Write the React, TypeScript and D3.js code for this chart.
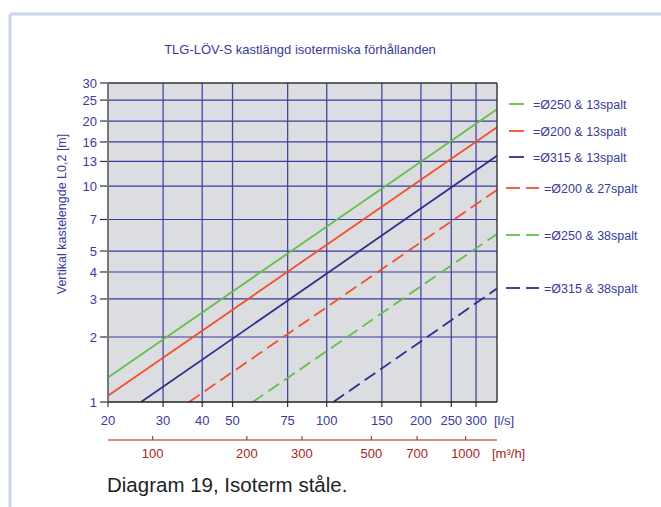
import React from "react";
import * as d3 from "d3";

// Air flow axis ticks [l/s] and the secondary [m³/h] scale
const flowTicks = [20, 30, 40, 50, 75, 100, 150, 200, 250, 300];
const flowM3hTicks = [100, 200, 300, 500, 700, 1000];
// Throw length ticks [m]
const throwTicks = [1, 2, 3, 4, 5, 7, 10, 13, 16, 20, 25, 30];

// Series: each line runs between two read points (flow l/s, throw m)
const seriesNames = [
  "=Ø250 & 13spalt",
  "=Ø200 & 13spalt",
  "=Ø315 & 13spalt",
  "=Ø200 & 27spalt",
  "=Ø250 & 38spalt",
  "=Ø315 & 38spalt",
];
const startFlow = [20, 20, 25.5, 36.3, 58, 105];
const startThrow = [1.3, 1.07, 1, 1, 1, 1];
const endFlow = [350, 350, 350, 350, 350, 350];
const endThrow = [22.7, 18.7, 13.8, 9.6, 6.0, 3.35];
const seriesColors = ["#62c04a", "#f2502c", "#2e2e8e", "#f2502c", "#62c04a", "#2e2e8e"];
const seriesDashed = [false, false, false, true, true, true];
const legendY = [104, 131, 157, 188, 235, 288];

const W = 661;
const H = 507;
const left = 108;
const right = 497;
const top = 83;
const bottom = 402;

const blue = "#3a3a9c";
const darkRed = "#a42424";

export default function App() {
  const x = d3.scaleLog().domain([20, 350]).range([left, right]);
  const y = d3.scaleLog().domain([1, 30]).range([bottom, top]);
  const line = d3
    .line<[number, number]>()
    .x((d) => x(d[0]))
    .y((d) => y(d[1]));

  const font = "'Liberation Sans', Arial, sans-serif";

  return (
    <svg
      width={W}
      height={H}
      style={{ position: "absolute", left: 0, top: 0, background: "#fff" }}
      fontFamily={font}
    >
      {/* page frame */}
      <line x1={10} y1={14} x2={W} y2={14} stroke="#cdd5ee" strokeWidth={3} />
      <line x1={10} y1={14} x2={10} y2={H} stroke="#cdd5ee" strokeWidth={3} />

      <text x={300} y={54} textAnchor="middle" fontSize={13} fill={blue}>
        TLG-LÖV-S kastlängd isotermiska förhållanden
      </text>

      {/* plot background */}
      <rect x={left} y={top} width={right - left} height={bottom - top} fill="#dcdde0" />

      {/* horizontal grid + y ticks */}
      {throwTicks.map((t) => (
        <g key={"y" + t}>
          {t !== 1 && t !== 30 && (
            <line x1={left} x2={right} y1={y(t)} y2={y(t)} stroke={blue} strokeWidth={1.2} />
          )}
          <line x1={100} x2={left} y1={y(t)} y2={y(t)} stroke="#333" strokeWidth={1.2} />
          <text x={97} y={y(t)} dy="0.36em" textAnchor="end" fontSize={13} fill={blue}>
            {t}
          </text>
        </g>
      ))}

      {/* vertical grid + x ticks */}
      {flowTicks.map((t) => (
        <g key={"x" + t}>
          {t !== 20 && (
            <line x1={x(t)} x2={x(t)} y1={top} y2={bottom} stroke="#4646a2" strokeWidth={1.3} />
          )}
          <line x1={x(t)} x2={x(t)} y1={bottom} y2={407} stroke="#333" strokeWidth={1.2} />
          <text x={x(t)} y={425} textAnchor="middle" fontSize={13} fill={blue}>
            {t}
          </text>
        </g>
      ))}
      <text x={494} y={425} fontSize={13} fill={blue}>
        [l/s]
      </text>

      {/* series */}
      {seriesNames.map((name, i) => (
        <path
          key={name}
          d={line([
            [startFlow[i], startThrow[i]],
            [endFlow[i], endThrow[i]],
          ]) as string}
          fill="none"
          stroke={seriesColors[i]}
          strokeWidth={1.8}
          strokeDasharray={seriesDashed[i] ? "13,6" : undefined}
        />
      ))}

      {/* plot frame */}
      <line x1={left} x2={right} y1={top} y2={top} stroke="#333" strokeWidth={1.4} />
      <line x1={right} x2={right} y1={top} y2={bottom} stroke="#333" strokeWidth={1.4} />
      <line x1={left} x2={left} y1={top} y2={bottom + 1} stroke="#777" strokeWidth={2} />
      <line x1={left} x2={right} y1={bottom} y2={bottom} stroke="#222" strokeWidth={1.5} />

      {/* secondary axis m³/h */}
      <line x1={left} x2={right} y1={440} y2={440} stroke="#c46a6a" strokeWidth={1.5} />
      {flowM3hTicks.map((t) => (
        <g key={"m" + t}>
          <line x1={x(t / 3.6)} x2={x(t / 3.6)} y1={436} y2={440} stroke="#b03a3a" strokeWidth={1.2} />
          <text x={x(t / 3.6)} y={458} textAnchor="middle" fontSize={13} fill={darkRed}>
            {t}
          </text>
        </g>
      ))}
      <text x={492} y={458} fontSize={13} fill={darkRed}>
        [m³/h]
      </text>

      {/* y axis title */}
      <text
        transform={`translate(66,214) rotate(-90)`}
        textAnchor="middle"
        fontSize={12.5}
        fill={blue}
      >
        Vertikal kastelengde  L0,2 [m]
      </text>

      {/* legend */}
      {seriesNames.map((name, i) => (
        <g key={"lg" + name}>
          {seriesDashed[i] ? (
            <>
              <line x1={506} x2={520} y1={legendY[i]} y2={legendY[i]} stroke={seriesColors[i]} strokeWidth={1.8} />
              <line x1={526} x2={539} y1={legendY[i]} y2={legendY[i]} stroke={seriesColors[i]} strokeWidth={1.8} />
            </>
          ) : (
            <line x1={509} x2={524} y1={legendY[i]} y2={legendY[i]} stroke={seriesColors[i]} strokeWidth={1.8} />
          )}
          <text
            x={seriesDashed[i] ? 544 : 533}
            y={legendY[i]}
            dy="0.36em"
            fontSize={12.5}
            fill={blue}
          >
            {name}
          </text>
        </g>
      ))}

      <text x={107} y={492} fontSize={20.5} fill="#222">
        Diagram 19, Isoterm ståle.
      </text>
    </svg>
  );
}
